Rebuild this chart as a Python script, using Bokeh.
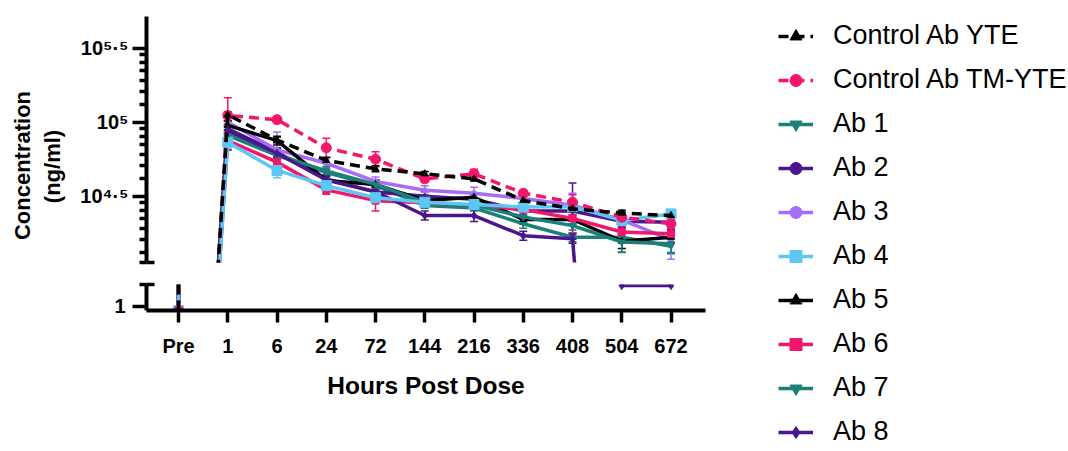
from bokeh.plotting import figure
from bokeh.models import (Range1d, FixedTicker, Label, Whisker, TeeHead, LinearAxis,
                          ColumnDataSource, Legend, LegendItem, PrintfTickFormatter)
from bokeh.layouts import row, column
from bokeh.embed import file_html
from bokeh.resources import INLINE

# ---------------- data ----------------
timepoints = ["Pre", "1", "6", "24", "72", "144", "216", "336", "408", "504", "672"]
y_major_exp = [4.5, 5, 5.5]                      # upper segment major ticks: 10^x
y_major_labels = ["10\u2074\u00b7\u2075", "10\u2075", "10\u2075\u00b7\u2075"]
lower_ticks = [1]
lower_tick_labels = ["1"]

names = ["Control Ab YTE", "Control Ab TM-YTE", "Ab 1", "Ab 2", "Ab 3",
         "Ab 4", "Ab 5", "Ab 6", "Ab 7", "Ab 8"]

# concentration (ng/ml)
yte    = [0.8, 112000, 75900, 55100, 48400, 44800, 41400, 29600, 26000, 24300, 23400]
tm_yte = [0.8, 111000, 104000, 67100, 56200, 41400, 44800, 33100, 28800, 22800, 20600]
ab1    = [0.8, 81300, 59600, 45700, 37300, 27400, 26300, 20600, 16700, 16700, 14500]
ab2    = [0.8, 90200, 62700, 41400, 33700, 31600, 30200, 25100, 25100, 21400, 21100]
ab3    = [0.8, 100000, 65000, 52800, 39800, 34700, 33100, 30500, 27500, 21900, 16000]
ab4    = [0.8, 73300, 47200, 37300, 30900, 28800, 27800, 26700, 26900, 21700, 24000]
ab5    = [0.8, 95100, 75000, 40400, 37900, 29600, 31100, 22000, 22000, 15700, 16700]
ab6    = [0.8, 75200, 53700, 34900, 29500, 28500, 27500, 25700, 22400, 18100, 17600]
ab7    = [0.8, 83200, 60300, 46800, 38000, 28800, 27500, 22900, 20000, 15500, 15100]
ab8    = [0.8, 87900, 61700, 40700, 33900, 23400, 23400, 17100, 16300, 1.95, 1.95]

# error (SD, log10 units)
err_yte    = [0, 0.02, 0.02, 0.02, 0.02, 0.015, 0.015, 0.02, 0.02, 0.02, 0.02]
err_tm_yte = [0, 0.12, 0.02, 0.065, 0.05, 0.02, 0.03, 0.02, 0.05, 0.03, 0.03]
err_ab1    = [0, 0.10, 0.03, 0.03, 0.03, 0.02, 0.02, 0.03, 0.03, 0.10, 0.05]
err_ab2    = [0, 0.03, 0.03, 0.03, 0.03, 0.03, 0.03, 0.04, 0.19, 0.04, 0.05]
err_ab3    = [0, 0.03, 0.12, 0.04, 0.03, 0.03, 0.04, 0.03, 0.08, 0.06, 0.13]
err_ab4    = [0, 0.04, 0.05, 0.03, 0.03, 0.03, 0.03, 0.03, 0.03, 0.03, 0.03]
err_ab5    = [0, 0.03, 0.03, 0.03, 0.03, 0.03, 0.03, 0.03, 0.03, 0.05, 0.04]
err_ab6    = [0, 0.06, 0.03, 0.03, 0.07, 0.03, 0.03, 0.03, 0.10, 0.04, 0.06]
err_ab7    = [0, 0.05, 0.03, 0.03, 0.03, 0.03, 0.03, 0.04, 0.03, 0.07, 0.06]
err_ab8    = [0, 0.03, 0.03, 0.03, 0.03, 0.03, 0.04, 0.03, 0.03, 0, 0]

values = [yte, tm_yte, ab1, ab2, ab3, ab4, ab5, ab6, ab7, ab8]
errors = [err_yte, err_tm_yte, err_ab1, err_ab2, err_ab3, err_ab4, err_ab5, err_ab6, err_ab7, err_ab8]

# ---------------- styles ----------------
PINK = "#F2176C"
TEAL = "#1B7F7A"
DPUR = "#4A168E"
LPUR = "#A66DF6"
LBLU = "#5CC7F3"
styles = {
    "Control Ab YTE":    dict(color="black", dash="10 6", marker="triangle", size=7),
    "Control Ab TM-YTE": dict(color=PINK, dash="10 6", marker="circle", size=10),
    "Ab 1": dict(color=TEAL, dash="solid", marker="inverted_triangle", size=6),
    "Ab 2": dict(color=DPUR, dash="solid", marker="circle", size=5),
    "Ab 3": dict(color=LPUR, dash="solid", marker="circle", size=5),
    "Ab 4": dict(color=LBLU, dash="solid", marker="square", size=10),
    "Ab 5": dict(color="black", dash="solid", marker="triangle", size=7),
    "Ab 6": dict(color=PINK, dash="solid", marker="square", size=7),
    "Ab 7": dict(color=TEAL, dash="solid", marker="inverted_triangle", size=7),
    "Ab 8": dict(color=DPUR, dash="solid", marker="diamond", size=8),
}
draw_order = ["Ab 1", "Ab 2", "Ab 3", "Ab 5", "Ab 6", "Ab 7", "Ab 8", "Ab 4",
              "Control Ab TM-YTE", "Control Ab YTE"]
LW = 3.5
FONT = "Liberation Sans"
TOTAL_H = 446

xs = list(range(len(timepoints)))
x_range = Range1d(-0.65, 10.7)


def bare(fig):
    fig.outline_line_color = None
    fig.grid.visible = False


def style_axis(ax, size):
    ax.axis_line_width = 4
    ax.axis_line_cap = "butt"
    ax.major_tick_line_width = 3.5
    ax.minor_tick_line_width = 3.5
    ax.major_tick_in = 0
    ax.minor_tick_in = 0
    ax.major_label_text_font = FONT
    ax.major_label_text_font_style = "bold"
    ax.major_label_text_font_size = size
    ax.major_label_text_color = "black"


def cap_axis(tick):
    cap = LinearAxis(ticker=FixedTicker(ticks=[tick], minor_ticks=[]),
                     formatter=PrintfTickFormatter(format=""))
    cap.axis_line_color = None
    cap.major_tick_in = 8
    cap.major_tick_out = 0
    cap.major_tick_line_width = 3.5
    cap.minor_tick_line_color = None
    cap.major_label_standoff = 0
    cap.major_label_text_font_size = "1px"
    return cap


# ---------------- y title panel ----------------
ttl = figure(width=70, height=TOTAL_H, x_range=Range1d(0, 1), y_range=Range1d(0, 1),
             x_axis_location=None, y_axis_location=None, min_border=0,
             toolbar_location=None, output_backend="svg")
bare(ttl)
for txt, x, y in (("Concentration", 22, TOTAL_H - 165), ("(ng/ml)", 52, TOTAL_H - 166)):
    ttl.add_layout(Label(x=x, y=y, x_units="screen", y_units="screen", text=txt,
                         angle=90, angle_units="deg", text_align="center",
                         text_baseline="middle", text_font=FONT, text_font_style="bold",
                         text_font_size="22px", text_color="black"))

# ---------------- upper segment ----------------
ystart = 10 ** 4.052
top = figure(width=645, height=273, x_range=x_range,
             y_range=Range1d(ystart, 10 ** 5.714), y_axis_type="log",
             min_border_left=76, min_border_right=10, min_border_top=16, min_border_bottom=11,
             x_axis_location=None, toolbar_location=None, output_backend="svg")
bare(top)

major = [10 ** e for e in y_major_exp]
minor = []
for b in (10 ** 4.0, 10 ** 4.5, 10 ** 5.0):
    step = (b * 10 ** 0.5 - b) / 7
    minor += [b + k * step for k in range(1, 7)]

ya = top.yaxis[0]
ya.ticker = FixedTicker(ticks=major, minor_ticks=minor + [ystart])
overrides = {}
for t, s in zip(major, y_major_labels):
    overrides[t] = s
    overrides[repr(t)] = s
    if float(t).is_integer():
        overrides[str(int(t))] = s
ya.major_label_overrides = overrides
style_axis(ya, "20px")
ya.major_tick_out = 14
ya.minor_tick_out = 7
ya.major_label_standoff = 4
top.left = [cap_axis(ystart)] + list(top.left)

# ---------------- lower segment ----------------
yend = 2.0
bot = figure(width=645, height=TOTAL_H - 273, x_range=x_range, y_range=Range1d(0.8, yend),
             min_border_left=76, min_border_right=10, min_border_top=11,
             min_border_bottom=TOTAL_H - 273 - 11 - 26,
             toolbar_location=None, output_backend="svg")
bare(bot)

yb = bot.yaxis[0]
yb.ticker = FixedTicker(ticks=lower_ticks, minor_ticks=[yend])
yb.major_label_overrides = {t: s for t, s in zip(lower_ticks, lower_tick_labels)}
yb.formatter = PrintfTickFormatter(format="%d")
style_axis(yb, "20px")
yb.major_tick_out = 14
yb.minor_tick_out = 7
yb.major_label_standoff = 7
bot.left = [cap_axis(yend)] + list(bot.left)

xa = bot.xaxis[0]
xa.ticker = FixedTicker(ticks=xs, minor_ticks=[])
xa.major_label_overrides = {i: t for i, t in zip(xs, timepoints)}
style_axis(xa, "20px")
xa.major_tick_out = 12
xa.minor_tick_line_color = None
xa.major_label_standoff = 12
xa.axis_label = "Hours Post Dose"
xa.axis_label_text_font = FONT
xa.axis_label_text_font_style = "bold"
xa.axis_label_text_font_size = "24.5px"
xa.axis_label_text_color = "black"
xa.axis_label_standoff = 12

# ---------------- legend panel ----------------
leg = figure(width=351, height=TOTAL_H, x_range=Range1d(-100, -99), y_range=Range1d(-100, -99),
             x_axis_location=None, y_axis_location=None, min_border=0,
             toolbar_location=None, output_backend="svg")
bare(leg)

# ---------------- series ----------------
legend_items = {}
for name in draw_order:
    i = names.index(name)
    v = values[i]
    e = errors[i]
    st = styles[name]
    up = [a * 10 ** b for a, b in zip(v, e)]
    lo = [a / 10 ** b for a, b in zip(v, e)]
    src = ColumnDataSource(dict(x=xs, y=v, upper=up, lower=lo))
    top.add_layout(Whisker(source=src, base="x", upper="upper", lower="lower",
                           line_color=st["color"], line_width=1.5,
                           upper_head=TeeHead(size=8, line_color=st["color"], line_width=1.5),
                           lower_head=TeeHead(size=8, line_color=st["color"], line_width=1.5)))
    rs = []
    for fig in (top, bot, leg):
        lr = fig.line("x", "y", source=src, line_color=st["color"], line_width=LW,
                      line_dash=st["dash"])
        sr = fig.scatter("x", "y", source=src, marker=st["marker"], size=st["size"],
                         fill_color=st["color"], line_color=st["color"])
        rs = [lr, sr]
    legend_items[name] = rs

GLYPH_H = 30
GAP = 13
first_top = 30
leg_h = len(names) * GLYPH_H + (len(names) - 1) * GAP
items = [LegendItem(label=n, renderers=legend_items[n]) for n in names]
legend = Legend(items=items, location=(63, TOTAL_H - first_top - leg_h),
                glyph_width=35, glyph_height=GLYPH_H, label_height=GLYPH_H, spacing=GAP,
                padding=0, margin=0, label_standoff=20,
                label_text_font=FONT, label_text_font_size="27px", label_text_color="black",
                border_line_color=None, background_fill_alpha=0)
leg.add_layout(legend)

layout = row(ttl, column(top, bot), leg)
open("out.html", "w").write(file_html(layout, INLINE))
